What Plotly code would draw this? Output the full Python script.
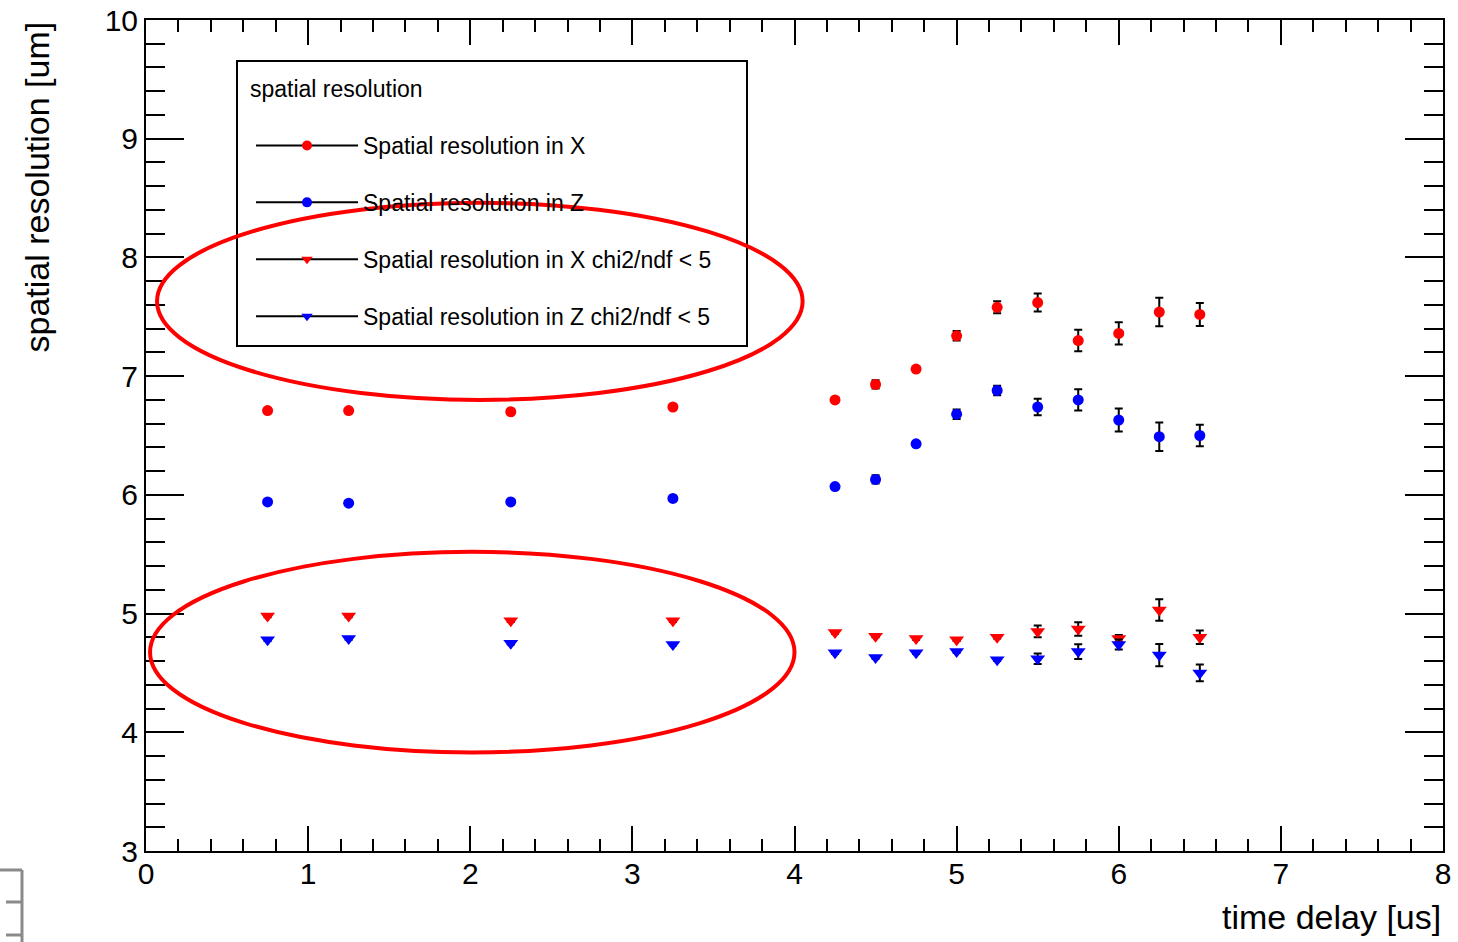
import plotly.graph_objects as go

# ---- data ----
time_delay = [0.75, 1.25, 2.25, 3.25, 4.25, 4.5, 4.75, 5.0, 5.25, 5.5, 5.75, 6.0, 6.25, 6.5]

res_x = [6.71, 6.71, 6.70, 6.74, 6.80, 6.93, 7.06, 7.34, 7.58, 7.62, 7.30, 7.36, 7.54, 7.52]
err_res_x = [0.01, 0.01, 0.01, 0.01, 0.02, 0.035, 0.02, 0.04, 0.05, 0.076, 0.09, 0.094, 0.12, 0.097]

res_z = [5.94, 5.93, 5.94, 5.97, 6.07, 6.13, 6.43, 6.68, 6.88, 6.74, 6.80, 6.63, 6.49, 6.50]
err_res_z = [0.01, 0.01, 0.01, 0.01, 0.02, 0.035, 0.02, 0.04, 0.04, 0.07, 0.09, 0.097, 0.12, 0.09]

res_x_chi = [4.98, 4.98, 4.94, 4.94, 4.84, 4.81, 4.79, 4.78, 4.80, 4.85, 4.87, 4.79, 5.03, 4.80]
err_res_x_chi = [0.01, 0.01, 0.01, 0.01, 0.01, 0.01, 0.01, 0.01, 0.01, 0.05, 0.056, 0.03, 0.09, 0.057]

res_z_chi = [4.78, 4.79, 4.75, 4.74, 4.67, 4.63, 4.67, 4.68, 4.61, 4.62, 4.68, 4.74, 4.65, 4.50]
err_res_z_chi = [0.01, 0.01, 0.01, 0.01, 0.01, 0.01, 0.01, 0.01, 0.01, 0.044, 0.062, 0.042, 0.094, 0.07]

series_names = ["Spatial resolution in X", "Spatial resolution in Z",
                "Spatial resolution in X chi2/ndf < 5", "Spatial resolution in Z chi2/ndf < 5"]
legend_title = "spatial resolution"
x_title = "time delay [us]"
y_title = "spatial resolution [um]"

FONT = "Liberation Sans, Arial, Helvetica, sans-serif"

# plot-area geometry in page pixels
W, H = 1458, 942
PX0, PX1, PY0, PY1 = 146, 1443, 20, 851
PW, PH = PX1 - PX0, PY1 - PY0


def px(x):
    return (x - PX0) / PW


def py(y):
    return (PY1 - y) / PH


series = [
    (res_x, err_res_x, "red", "circle", 11),
    (res_z, err_res_z, "blue", "circle", 11),
    (res_x_chi, err_res_x_chi, "red", "triangle-down", 13),
    (res_z_chi, err_res_z_chi, "blue", "triangle-down", 13),
]

fig = go.Figure()
for i, (vals, errs, col, sym, sz) in enumerate(series):
    fig.add_trace(go.Scatter(
        x=time_delay, y=vals, mode="markers",
        marker=dict(color=col, symbol=sym, size=sz, line=dict(width=0)),
        error_y=dict(type="data", array=errs, visible=True, color="black",
                     thickness=2, width=4),
        showlegend=False, hoverinfo="x+y",
    ))
# legend entries (line + marker), no data
for i, (vals, errs, col, sym, sz) in enumerate(series):
    fig.add_trace(go.Scatter(
        x=[None], y=[None], mode="lines+markers", name=series_names[i],
        line=dict(color="black", width=2),
        marker=dict(color=col, symbol=sym, size=10),
        legendgroup=f"g{i}",
    ))

# legend frame + title
fig.add_shape(type="rect", xref="paper", yref="paper", x0=px(237), x1=px(747), y0=py(346), y1=py(61),
              line=dict(color="black", width=2), fillcolor="rgba(0,0,0,0)", layer="above")
fig.add_annotation(text=legend_title, xref="paper", yref="paper", x=px(248), y=py(89),
                   xanchor="left", yanchor="middle", showarrow=False,
                   font=dict(family=FONT, size=23, color="black"))

# hand-drawn red ellipses
fig.add_shape(type="circle", xref="x", yref="y", x0=0.068, x1=4.05, y0=6.80, y1=8.46,
              line=dict(color="red", width=4), layer="above")
fig.add_shape(type="circle", xref="x", yref="y", x0=0.025, x1=4.0, y0=3.83, y1=5.52,
              line=dict(color="red", width=4), layer="above")

# small grey crop artefact at bottom-left
gray = dict(color="#8a8a8a", width=3)
fig.add_shape(type="line", xref="paper", yref="paper", x0=px(22), x1=px(22), y0=py(870), y1=py(950), line=gray)
fig.add_shape(type="line", xref="paper", yref="paper", x0=px(0), x1=px(22), y0=py(870), y1=py(870), line=gray)
fig.add_shape(type="line", xref="paper", yref="paper", x0=px(6), x1=px(22), y0=py(902), y1=py(902), line=gray)
fig.add_shape(type="line", xref="paper", yref="paper", x0=px(6), x1=px(22), y0=py(935), y1=py(935), line=gray)

# axis titles (ROOT style: aligned to the end)
fig.add_annotation(text=x_title, xref="paper", yref="paper", x=1.0, y=py(917),
                   xanchor="right", yanchor="middle", showarrow=False,
                   font=dict(family=FONT, size=34, color="black"))
fig.add_annotation(text=y_title, xref="paper", yref="paper", x=px(36), y=1.0,
                   xanchor="center", yanchor="top", textangle=-90, showarrow=False,
                   font=dict(family=FONT, size=34, color="black"))

axis_common = dict(showline=True, linecolor="black", linewidth=2, mirror="ticks",
                   ticks="inside", tickcolor="black", tickwidth=2, showgrid=False,
                   zeroline=False, automargin=False, ticklabeloverflow="allow",
                   tickfont=dict(family=FONT, size=30, color="black"))

fig.update_xaxes(range=[0, 8], dtick=1, tick0=0, ticklen=25, ticklabelstandoff=-5,
                 minor=dict(dtick=0.2, tick0=0, ticks="inside", ticklen=12,
                            tickwidth=2, tickcolor="black", showgrid=False),
                 **axis_common)
fig.update_yaxes(range=[3, 10], dtick=1, tick0=0, ticklen=38,
                 minor=dict(dtick=0.2, tick0=0, ticks="inside", ticklen=19,
                            tickwidth=2, tickcolor="black", showgrid=False),
                 **axis_common)

fig.update_layout(
    width=W, height=H,
    margin=dict(l=PX0, r=W - PX1, t=PY0, b=H - PY1, autoexpand=False),
    paper_bgcolor="white", plot_bgcolor="white",
    font=dict(family=FONT, color="black"),
    legend=dict(
        font=dict(family=FONT, size=23, color="black"),
        x=px(251), y=py(124), xanchor="left", yanchor="top",
        bgcolor="rgba(0,0,0,0)", borderwidth=0,
        traceorder="grouped", tracegroupgap=24, itemwidth=102,
    ),
)

fig.write_html("out.html", config={"displayModeBar": False},
               post_script="document.body.style.margin='0';document.body.style.overflow='hidden';")
